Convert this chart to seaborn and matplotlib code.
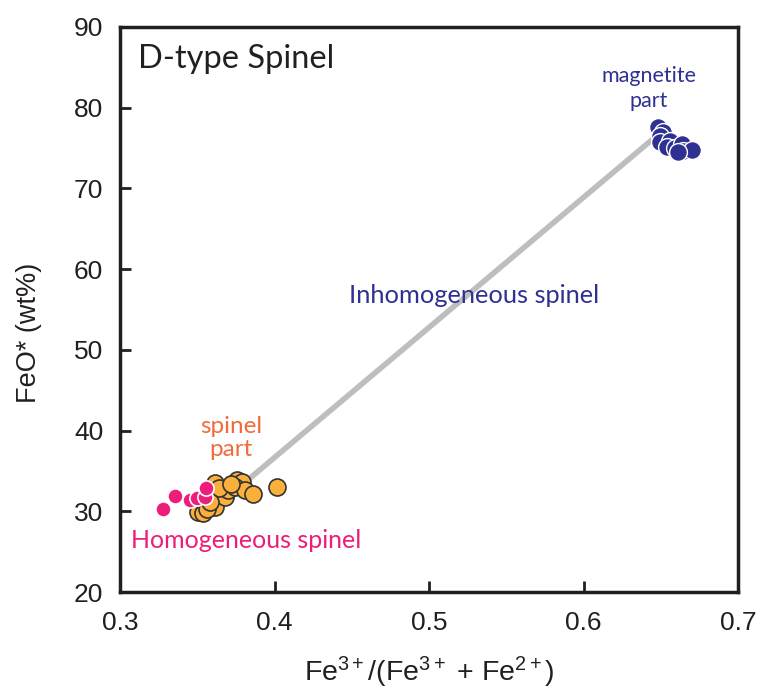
import matplotlib
matplotlib.use("Agg")
import matplotlib.pyplot as plt
import seaborn as sns
import pandas as pd

# Data
spinel_x = [0.3507, 0.354, 0.3615, 0.3604, 0.3615, 0.3658, 0.368, 0.370, 0.3755, 0.3787,
            0.3744, 0.381, 0.3863, 0.4016, 0.3560, 0.3640, 0.3720, 0.3580]
spinel_y = [29.95, 29.75, 30.57, 32.2, 33.47, 32.4, 31.8, 32.6, 33.9, 33.67,
            33.05, 32.6, 32.2, 33.05, 30.3, 32.9, 33.4, 31.2]
homog_x = [0.3276, 0.3356, 0.3453, 0.3496, 0.3550, 0.3557]
homog_y = [30.25, 31.93, 31.4, 31.65, 31.8, 32.85]
magn_x = [0.6485, 0.6517, 0.6495, 0.6495, 0.6560, 0.6538, 0.6592, 0.6635, 0.6646, 0.6700, 0.6610]
magn_y = [77.6, 77.0, 76.5, 75.7, 75.9, 75.1, 75.0, 75.5, 74.6, 74.8, 74.5]
trend_x = [0.381, 0.646]
trend_y = [33.6, 76.3]

x_ticks = [0.3, 0.4, 0.5, 0.6, 0.7]
y_ticks = [20, 30, 40, 50, 60, 70, 80, 90]

sns.set_theme(style="white")
plt.rcParams['font.family'] = ['Liberation Sans', 'DejaVu Sans']
plt.rcParams['mathtext.fontset'] = 'custom'
plt.rcParams['mathtext.rm'] = 'Liberation Sans'
plt.rcParams['mathtext.it'] = 'Liberation Sans'
plt.rcParams['mathtext.bf'] = 'Liberation Sans'

fig = plt.figure(figsize=(7.63, 6.95), dpi=100)
ax = fig.add_axes([120/763, 1-592/695, 618/763, 565/695])

ax.plot(trend_x, trend_y, color="#bcbec0", lw=4, solid_capstyle="butt", zorder=1)

df_sp = pd.DataFrame({"x": spinel_x, "y": spinel_y})
df_h = pd.DataFrame({"x": homog_x, "y": homog_y})
df_m = pd.DataFrame({"x": magn_x, "y": magn_y})

sns.scatterplot(data=df_sp, x="x", y="y", ax=ax, color="#fbb03b", edgecolor="#333333",
                linewidth=1.2, s=150, zorder=2)
sns.scatterplot(data=df_h, x="x", y="y", ax=ax, color="#ed1e79", edgecolor="white",
                linewidth=1.2, s=120, zorder=3)
sns.scatterplot(data=df_m, x="x", y="y", ax=ax, color="#2e3192", edgecolor="white",
                linewidth=1.0, s=165, zorder=3)

ax.set_xlim(0.3, 0.7)
ax.set_ylim(20, 90)
ax.set_xticks(x_ticks)
ax.set_xticklabels([f"{v:.1f}" for v in x_ticks])
ax.set_yticks(y_ticks)
ax.set_yticklabels([str(v) for v in y_ticks])
ax.tick_params(axis="both", direction="in", length=8, width=2, color="#231f20",
               labelsize=19, bottom=True, left=True, labelcolor="#231f20")
ax.tick_params(axis="x", pad=14)
ax.tick_params(axis="y", pad=12)
for sp in ax.spines.values():
    sp.set_linewidth(2.5)
    sp.set_color("#231f20")

ax.set_xlabel(r"Fe$^{3+}$/(Fe$^{3+}$ + Fe$^{2+}$)", fontsize=20.5, labelpad=14, color="#231f20")
ax.set_ylabel("FeO* (wt%)", fontsize=19.5, color="#231f20")
ax.yaxis.set_label_coords(-0.126, 0.458)

tf = ['Lato', 'DejaVu Sans']
ax.text(0.3117, 86.0, "D-type Spinel", fontsize=23.5, family=tf, color="#231f20",
        ha="left", va="center")
ax.text(0.6424, 82.4, "magnetite\npart", fontsize=15.5, family=tf, color="#2e3192",
        ha="center", va="center", linespacing=1.3)
ax.text(0.529, 56.7, "Inhomogeneous spinel", fontsize=18.3, family=tf, color="#2e3192",
        ha="center", va="center")
ax.text(0.3718, 39.1, "spinel\npart", fontsize=17.5, family=tf, color="#f26b3a",
        ha="center", va="center", linespacing=1.15)
ax.text(0.3819, 26.4, "Homogeneous spinel", fontsize=18, family=tf, color="#ed1e79",
        ha="center", va="center")

fig.savefig("out.png", dpi=100)
